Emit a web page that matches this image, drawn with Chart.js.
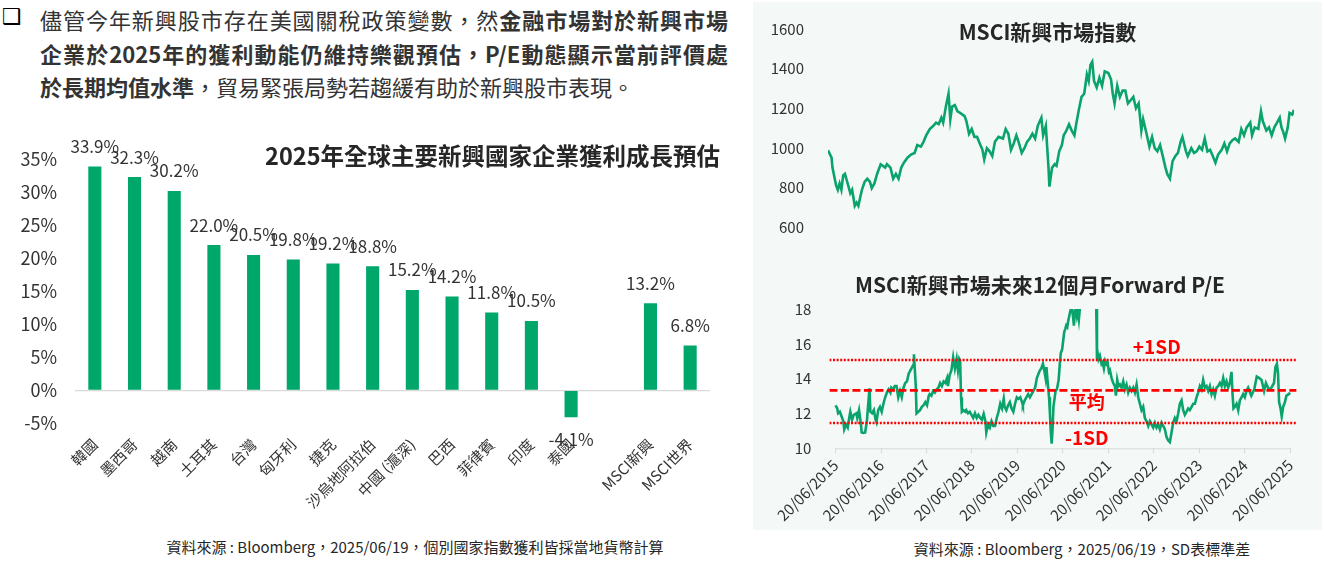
<!DOCTYPE html>
<html lang="zh-Hant">
<head>
<meta charset="UTF-8">
<title>新興市場企業獲利與評價</title>
<script src="https://cdn.jsdelivr.net/npm/chart.js"></script>
<style>
    body {
        margin: 0;
        width: 1324px;
        height: 561px;
        position: relative;
        overflow: hidden;
        background: #fff;
        color: #333;
        font-family: "Noto Sans CJK TC", "Noto Sans", sans-serif;
    }
    .abs { position: absolute; }
    .bullet {
        left: 2px; top: 2px;
        font-family: "DejaVu Sans", sans-serif;
        font-size: 22px;
        line-height: 30px;
        color: #000;
    }
    .line {
        position: absolute;
        left: 40px;
        width: 688px;
        font-size: 22px;
        line-height: 34px;
    }
    .just { text-align: justify; text-align-last: justify; }
    b { font-weight: 700; }
    .panel { left: 753px; top: 2px; width: 569px; height: 528px; background: #f4f9f7; }
    .title { font-weight: 700; color: #262626; white-space: nowrap; }
    .source { font-size: 15px; color: #262626; white-space: nowrap; text-align: center; }
</style>
</head>
<body>

<div class="abs bullet">❑</div>
<div class="line just" style="top:2px">儘管今年新興股市存在美國關稅政策變數，然<b>金融市場對於新興市場</b></div>
<div class="line just" style="top:36px"><b>企業於2025年的獲利動能仍維持樂觀預估，P/E動態顯示當前評價處</b></div>
<div class="line" style="top:69px"><b>於長期均值水準</b>，貿易緊張局勢若趨緩有助於新興股市表現。</div>

<div class="abs panel"></div>

<!-- 左：獲利成長長條圖 -->
<div class="abs" style="left:0; top:130px; width:730px; height:380px;">
    <canvas id="growthChart"></canvas>
</div>
<div class="abs title" style="left:200px; width:520px; top:139px; font-size:23.5px; line-height:32px; text-align:right;">2025年全球主要新興國家企業獲利成長預估</div>
<div class="abs source" style="left:115px; width:600px; top:536px; line-height:22px;">資料來源 : Bloomberg，2025/06/19，個別國家指數獲利皆採當地貨幣計算</div>

<!-- 右上：MSCI 新興市場指數 -->
<div class="abs" style="left:753px; top:2px; width:569px; height:250px;">
    <canvas id="indexChart"></canvas>
</div>
<div class="abs title" style="left:900px; width:295px; top:16px; font-size:21px; line-height:30px; text-align:center;">MSCI新興市場指數</div>

<!-- 右下：Forward P/E -->
<div class="abs" style="left:753px; top:290px; width:569px; height:240px;">
    <canvas id="peChart"></canvas>
</div>
<div class="abs title" style="left:840px; width:400px; top:269px; font-size:21px; line-height:30px; text-align:center;">MSCI新興市場未來12個月Forward P/E</div>
<div class="abs source" style="left:882px; width:400px; top:538px; line-height:22px;">資料來源 : Bloomberg，2025/06/19，SD表標準差</div>

<script>
// ---- 資料 ----
var countries = ['韓國', '墨西哥', '越南', '土耳其', '台灣', '匈牙利', '捷克', '沙烏地阿拉伯',
    '中國 (滬深)', '巴西', '菲律賓', '印度', '泰國', '', 'MSCI新興', 'MSCI世界'];
var growth2025 = [33.9, 32.3, 30.2, 22.0, 20.5, 19.8, 19.2, 18.8, 15.2, 14.2, 11.8, 10.5, -4.1, null, 13.2, 6.8];

// MSCI新興市場指數 (自 2015/06/20 起的週數)
var indexWeeks = [0, 4, 5, 9, 11, 13, 15, 17, 19, 21, 23, 25, 27, 30, 32, 34, 38, 41, 44, 47, 49, 52, 55, 59, 64, 66,
    70, 73, 76, 79, 82, 85, 89, 93, 97, 100, 104, 107, 110, 114, 118, 121, 124, 127, 129, 132, 135, 137, 139, 142,
    145, 148, 153, 155, 158, 161, 164, 167, 170, 173, 175, 178, 181, 184, 187, 191, 196, 199, 202, 205, 208, 211,
    214, 217, 220, 223, 226, 229, 232, 235, 239, 241, 244, 247, 248, 251, 254, 256, 259, 262, 264, 267, 270, 273,
    276, 278, 281, 284, 287, 290, 292, 294, 296, 298, 301, 304, 307, 310, 314, 317, 319, 321, 324, 327, 330, 333,
    336, 339, 342, 345, 348, 351, 353, 356, 360, 363, 366, 369, 372, 375, 378, 380, 383, 386, 389, 392, 395, 397,
    401, 403, 407, 410, 413, 416, 419, 422, 425, 428, 431, 434, 437, 441, 444, 447, 450, 453, 456, 460, 463, 466,
    469, 473, 475, 478, 482, 485, 487, 491, 494, 497, 500, 503, 506, 508, 510, 512, 515, 517, 520, 522];
var indexValues = [987, 950, 900, 812, 788, 820, 788, 860, 868, 836, 804, 771, 788, 707, 723, 707, 788, 828, 844, 828,
    796, 820, 868, 917, 900, 917, 900, 844, 868, 844, 900, 925, 950, 966, 974, 1014, 1006, 1030, 1063, 1095, 1111,
    1127, 1119, 1152, 1127, 1208, 1273, 1144, 1208, 1216, 1184, 1176, 1160, 1135, 1071, 1095, 1055, 1055, 1022, 990,
    941, 998, 982, 958, 1030, 1055, 1047, 1095, 1071, 990, 1022, 1063, 1022, 974, 998, 1030, 1047, 1071, 1047, 1111,
    1152, 1063, 1111, 900, 804, 900, 917, 909, 982, 1014, 1063, 1087, 1119, 1087, 1063, 1119, 1192, 1257, 1273, 1370,
    1338, 1419, 1435, 1338, 1305, 1354, 1313, 1386, 1378, 1346, 1273, 1224, 1313, 1257, 1289, 1289, 1224, 1240, 1257,
    1200, 1224, 1087, 1144, 1087, 1006, 1055, 998, 982, 1014, 958, 900, 868, 844, 933, 958, 974, 1030, 1055, 982, 958,
    998, 974, 982, 1006, 990, 1047, 982, 990, 958, 925, 966, 990, 1022, 982, 1022, 1038, 1047, 1030, 1095, 1063, 1103,
    1127, 1063, 1103, 1095, 1184, 1135, 1087, 1103, 1063, 1103, 1127, 1152, 1103, 1079, 1047, 1103, 1176, 1168, 1192];

// 未來12個月 Forward P/E (自 2015/06/20 起的週數)
var peWeeks = [0, 2, 3, 5, 7, 9, 10, 12, 14, 16, 17, 19, 21, 24, 25, 27, 29, 30, 32, 34, 36, 37, 39, 40, 42, 44, 46,
    47, 49, 51, 53, 55, 57, 59, 61, 63, 64, 66, 68, 70, 72, 74, 76, 78, 80, 82, 84, 85, 87, 89, 90, 92, 93, 95, 97,
    99, 101, 103, 105, 107, 108, 110, 112, 114, 116, 118, 120, 122, 124, 126, 128, 129, 131, 133, 135, 137, 139,
    140.5, 142, 143, 144, 145, 147, 149, 150, 152, 154, 156, 158, 160, 162, 164, 166, 168, 170, 172, 173, 175, 177,
    179, 181, 183, 185, 187, 189, 191, 193, 194, 196, 198, 200, 202, 204, 206, 208, 210, 212, 214, 215, 217, 219,
    221, 223, 226, 229, 231, 233, 234.5, 236, 238, 239.5, 241, 242, 243, 245, 246, 247, 248, 249, 250, 251.5, 252.5,
    254, 256, 257.5, 258.5, 260, 261.3, 262.4, 263.6, 264.7, 265.9, 267, 268.2, 269.3, 270.5, 271.6, 272.8, 273.5,
    274.7, 275.8, 277, 278.1, 279.2, 280.4, 281.5, 284, 288, 292, 296, 299, 300, 300.7, 301.8, 303.3, 305.2, 306.4,
    307.9, 309.4, 311, 312.1, 313.7, 314.8, 316.7, 318.6, 320.5, 321.7, 323.2, 324.7, 326.3, 328.2, 330.1, 332,
    333.9, 335.8, 337.7, 339.7, 341.6, 343.5, 345.4, 347.3, 349.2, 351.1, 353, 354.9, 356.9, 358.8, 360.7, 362.6,
    364.5, 366.4, 368.3, 370.2, 372.1, 374.1, 376, 377.9, 379.8, 381.7, 383.6, 385.5, 387.4, 389.3, 391.3, 393.2,
    395.1, 397, 398.9, 400.8, 402.7, 404.6, 406.5, 408.5, 410.4, 412.3, 414.2, 416.1, 418, 419.9, 421.8, 423.8,
    425.7, 427.6, 429.5, 431.4, 433.3, 435.2, 437.1, 439, 441, 442.9, 444.8, 446.7, 448.6, 450.5, 452.4, 454.3,
    455.5, 456.6, 458.2, 460.1, 462, 463.9, 465.8, 467.7, 469.6, 471.5, 473.4, 477, 480.4, 483.3, 486.3, 488.8,
    491.7, 493.8, 497.2, 500.1, 503.1, 504.7, 506.4, 507.7, 508.9, 510.6, 511.9, 513.6, 515.6, 517.3, 519.9, 521.5];
var peValues = [12.47, 12.29, 12.01, 12.1, 11.83, 11.55, 11.09, 11.37, 11.19, 11.83, 12.1, 11.64, 11.92, 12.01, 11.74,
    12.19, 11.46, 10.91, 10.88, 10.91, 11.55, 12.19, 13.44, 12.1, 12.01, 12.19, 11.64, 11.5, 12.19, 12.38, 12.1, 12.56,
    12.93, 13.2, 13.38, 13.2, 13.48, 13.38, 13.57, 13.57, 12.93, 13.29, 12.93, 13.48, 13.75, 13.84, 14.3, 14.39, 14.58,
    14.76, 15.4, 13.66, 12.01, 12.1, 12.19, 12.38, 12.47, 12.65, 12.47, 13.02, 13.11, 13.02, 13.29, 13.2, 13.38, 13.48,
    13.75, 13.57, 13.84, 13.75, 14.03, 13.57, 14.21, 14.48, 15.22, 14.58, 15.13, 14.48, 15.13, 15.03, 12.93, 12.1,
    12.19, 12.1, 12.19, 12.01, 12.1, 11.92, 11.74, 12.01, 11.74, 11.92, 11.74, 11.64, 11.97, 11.55, 10.91, 11.37,
    11.19, 11.55, 11.28, 11.28, 11.74, 12.1, 12.56, 12.29, 12.84, 12.38, 12.19, 12.47, 12.65, 12.29, 12.1, 12.56,
    12.93, 12.84, 12.93, 12.65, 12.47, 12.75, 12.93, 13.11, 12.93, 13.2, 13.48, 14.03, 14.3, 14.48, 14.58, 14.85,
    14.48, 14.03, 14.67, 14.03, 12.93, 12.01, 10.91, 10.27, 11.09, 12.38, 12.93, 13.29, 13.38, 13.93, 14.94, 15.49,
    15.67, 16.22, 16.68, 16.86, 17.05, 16.96, 17.32, 17.6, 17.87, 18.05, 17.96, 17.41, 17.05, 17.87, 18.05, 17.6,
    17.87, 17.41, 18.05, 18.4, 18.8, 19.2, 19.5, 19.0, 18.5, 15.12, 15.49, 15.12, 15.31, 14.85, 14.94, 14.58, 15.03,
    14.85, 14.94, 14.39, 14.48, 14.03, 13.75, 13.57, 13.02, 13.93, 13.57, 13.66, 13.48, 13.84, 13.38, 13.66, 13.2,
    13.48, 13.29, 13.48, 13.2, 13.66, 12.93, 12.56, 12.19, 12.38, 11.74, 11.55, 11.28, 11.55, 11.37, 11.19, 11.46,
    11.19, 11.37, 11.09, 11.46, 11.28, 11.09, 10.64, 10.45, 10.36, 10.91, 11.46, 11.74, 11.55, 12.01, 12.56, 12.75,
    12.19, 11.92, 12.1, 12.29, 12.19, 12.38, 12.56, 12.56, 12.93, 13.2, 13.57, 13.38, 13.93, 13.48, 13.57, 13.29,
    13.57, 13.11, 13.38, 13.02, 13.48, 13.57, 13.75, 13.57, 14.03, 13.57, 13.84, 13.48, 13.75, 14.39, 13.11, 12.29,
    12.38, 12.56, 12.19, 12.75, 12.93, 13.11, 12.93, 13.29, 13.48, 13.02, 13.38, 14.12, 14.03, 13.93, 13.29, 13.75,
    13.38, 13.48, 13.75, 14.67, 14.85, 14.3, 12.65, 12.29, 11.83, 12.38, 12.65, 13.02, 13.11, 13.2];
var peMean = 13.33;
var peUpper = 15.07;
var peLower = 11.46;
var peTickWeeks = [0, 52.2, 104.4, 156.5, 208.7, 260.9, 313.1, 365.3, 417.4, 469.6, 521.8];
var peTickLabels = ['20/06/2015', '20/06/2016', '20/06/2017', '20/06/2018', '20/06/2019', '20/06/2020',
    '20/06/2021', '20/06/2022', '20/06/2023', '20/06/2024', '20/06/2025'];

var FONT = '"Noto Sans CJK TC", "Noto Sans", sans-serif';
var GREEN_BAR = '#00a76b';
var GREEN_LINE = '#0aa36c';
var RED = '#ff0000';
var TEXT = '#333333';

Chart.defaults.font.family = FONT;
Chart.defaults.color = TEXT;
Chart.defaults.animation = false;
Chart.defaults.plugins.legend.display = false;
Chart.defaults.plugins.tooltip.enabled = false;

// 長條上方的數值
var barValueLabels = {
    id: 'barValueLabels',
    afterDatasetsDraw: function (chart) {
        var ctx = chart.ctx;
        var meta = chart.getDatasetMeta(0);
        ctx.save();
        ctx.font = '17px ' + FONT;
        ctx.fillStyle = TEXT;
        ctx.textAlign = 'center';
        ctx.textBaseline = 'middle';
        meta.data.forEach(function (bar, i) {
            var v = growth2025[i];
            if (v === null || isNaN(bar.y)) return;
            ctx.fillText(v.toFixed(1) + '%', bar.x, v >= 0 ? bar.y - 20 : bar.y + 22);
        });
        ctx.restore();
    }
};

new Chart(document.getElementById('growthChart'), {
    type: 'bar',
    data: {
        labels: countries,
        datasets: [{
            data: growth2025,
            backgroundColor: GREEN_BAR,
            categoryPercentage: 1,
            barPercentage: 0.33
        }]
    },
    options: {
        responsive: true,
        maintainAspectRatio: false,
        layout: { padding: { left: 0, top: 29.3, right: 20, bottom: 0 } },
        scales: {
            x: {
                grid: { display: false },
                border: { display: false },
                ticks: { autoSkip: false, minRotation: 45, maxRotation: 45, padding: 4, font: { size: 15 } },
                afterFit: function (scale) { scale.height = 86.7; }
            },
            y: {
                min: -5,
                max: 35,
                ticks: {
                    stepSize: 5,
                    padding: 18,
                    font: { size: 18 },
                    callback: function (v) { return v + '%'; }
                },
                grid: {
                    drawTicks: false,
                    lineWidth: 1.3,
                    color: function (c) { return c.tick && c.tick.value === 0 ? '#d9d9d9' : 'rgba(0,0,0,0)'; }
                },
                border: { display: false },
                afterFit: function (scale) { scale.width = 75; }
            }
        }
    },
    plugins: [barValueLabels]
});

new Chart(document.getElementById('indexChart'), {
    type: 'line',
    data: {
        datasets: [{
            data: indexWeeks.map(function (w, i) { return { x: w, y: indexValues[i] }; }),
            borderColor: GREEN_LINE,
            borderWidth: 2.6,
            pointRadius: 0,
            tension: 0
        }]
    },
    options: {
        responsive: true,
        maintainAspectRatio: false,
        layout: { padding: { left: 0, top: 27, right: 28, bottom: 16 } },
        scales: {
            x: { type: 'linear', min: 0, max: 522, display: false },
            y: {
                min: 600,
                max: 1600,
                ticks: {
                    stepSize: 200,
                    padding: 16,
                    font: { size: 15 },
                    callback: function (v) { return String(v); }
                },
                grid: { display: false },
                border: { display: false },
                afterFit: function (scale) { scale.width = 75; }
            }
        }
    }
});

// P/E 圖的文字標註與 x 軸線
var peNotes = [
    { text: '+1SD', week: 368.6, value: 15.84, size: 19 },
    { text: '平均', week: 288.3, value: 12.65, size: 18 },
    { text: '-1SD', week: 288.3, value: 10.62, size: 19 }
];
var peDecor = {
    id: 'peDecor',
    afterDraw: function (chart) {
        var ctx = chart.ctx;
        var xs = chart.scales.x, ys = chart.scales.y;
        var bottom = chart.chartArea.bottom;
        ctx.save();
        ctx.strokeStyle = '#d9d9d9';
        ctx.lineWidth = 1;
        ctx.beginPath();
        ctx.moveTo(xs.getPixelForValue(peTickWeeks[0]), bottom + 0.5);
        ctx.lineTo(xs.getPixelForValue(peTickWeeks[peTickWeeks.length - 1]), bottom + 0.5);
        ctx.stroke();
        ctx.fillStyle = RED;
        ctx.textAlign = 'center';
        ctx.textBaseline = 'middle';
        peNotes.forEach(function (n) {
            ctx.font = 'bold ' + n.size + 'px ' + FONT;
            ctx.fillText(n.text, xs.getPixelForValue(n.week), ys.getPixelForValue(n.value));
        });
        ctx.restore();
    }
};

function flatLine(v) {
    return [{ x: -7, y: v }, { x: 529, y: v }];
}

new Chart(document.getElementById('peChart'), {
    type: 'line',
    data: {
        datasets: [
            { data: flatLine(peUpper), borderColor: RED, borderWidth: 2.5, borderDash: [2, 1.6], pointRadius: 0 },
            { data: flatLine(peMean), borderColor: RED, borderWidth: 2.8, borderDash: [8, 3.5], pointRadius: 0 },
            { data: flatLine(peLower), borderColor: RED, borderWidth: 2.5, borderDash: [2, 1.6], pointRadius: 0 },
            {
                data: peWeeks.map(function (w, i) { return { x: w, y: peValues[i] }; }),
                borderColor: GREEN_LINE,
                borderWidth: 2.6,
                pointRadius: 0,
                tension: 0,
                clip: 0
            }
        ]
    },
    options: {
        responsive: true,
        maintainAspectRatio: false,
        layout: { padding: { left: 0, top: 12.7, right: 25.4, bottom: 0 } },
        scales: {
            x: {
                type: 'linear',
                min: -7,
                max: 529,
                afterBuildTicks: function (scale) {
                    scale.ticks = peTickWeeks.map(function (w) { return { value: w }; });
                },
                ticks: {
                    minRotation: 45,
                    maxRotation: 45,
                    padding: 3,
                    font: { size: 15 },
                    callback: function (v, i) { return peTickLabels[i]; }
                },
                grid: { drawOnChartArea: false, drawTicks: true, tickLength: 5, color: '#d9d9d9' },
                border: { display: false },
                afterFit: function (scale) { scale.height = 81.7; }
            },
            y: {
                min: 10,
                max: 18,
                ticks: { stepSize: 2, padding: 10, font: { size: 15 } },
                grid: { display: false },
                border: { display: false },
                afterFit: function (scale) { scale.width = 76.4; }
            }
        }
    },
    plugins: [peDecor]
});
</script>

</body>
</html>
